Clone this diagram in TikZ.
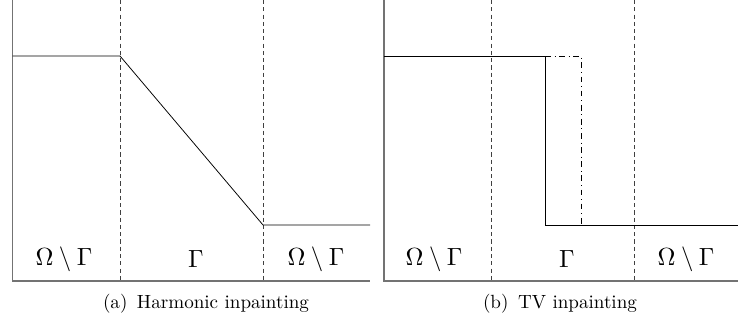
\documentclass[tikz,border=0pt]{standalone}
\usepackage{amsmath,amssymb}
\usepackage{tikz}
\usetikzlibrary{positioning,calc}

\begin{document}
\begin{tikzpicture}[
    x=0.0184cm, y=-0.0184cm,
    axis/.style={draw=black!55, line width=0.8pt},
    sep/.style={black!75, thin, dash pattern=on 2.2pt off 1.6pt},
    profile/.style={black, thin},
    altprofile/.style={black, thin, dash dot},
    region/.style={inner sep=0pt, anchor=center, scale=1.3},
    caption/.style={inner sep=0pt, anchor=center}
]
\useasboundingbox (0,0) rectangle (738,327);

% Coordinates (a) Harmonic
\coordinate (aTop) at (12.5,0);
\coordinate (aOrig) at (12.5,281);
\coordinate (aEnd) at (370,281);
\coordinate (aG1top) at (120,0);
\coordinate (aG1bot) at (120,281);
\coordinate (aG2top) at (263,0);
\coordinate (aG2bot) at (263,281);
\coordinate (aHighL) at (12.5,56);
\coordinate (aHighR) at (120,56);
\coordinate (aLowL) at (263,225);
\coordinate (aLowR) at (370,225);

% Coordinates (b) TV
\coordinate (bTop) at (384,0);
\coordinate (bOrig) at (384,281);
\coordinate (bEnd) at (738,281);
\coordinate (bG1top) at (491,0);
\coordinate (bG1bot) at (491,281);
\coordinate (bG2top) at (634,0);
\coordinate (bG2bot) at (634,281);
\coordinate (bHighL) at (384,56);
\coordinate (bJumpT) at (545,56);
\coordinate (bJumpB) at (545,225);
\coordinate (bAltT) at (581,56);
\coordinate (bAltB) at (581,225);
\coordinate (bLowR) at (738,225);

% Axes
\draw[axis] (aTop) -- (aOrig) -- (aEnd);
\draw[axis] (bTop) -- (bOrig) -- (bEnd);

% Separators
\draw[sep] (aG1top) -- (aG1bot);
\draw[sep] (aG2top) -- (aG2bot);
\draw[sep] (bG1top) -- (bG1bot);
\draw[sep] (bG2top) -- (bG2bot);

% Profiles
\draw[profile] (aHighL) -- (aHighR) -- (aLowL) -- (aLowR);
\draw[profile] (bHighL) -- (bJumpT) -- (bJumpB) -- (bLowR);
\draw[altprofile] (bJumpT) -- (bAltT) -- (bAltB);

% Region labels
\node[region] (aOut1) at (64,259) {$\Omega\setminus\Gamma$};
\node[region] (aIn) at (196,259) {$\Gamma$};
\node[region] (aOut2) at (316,259) {$\Omega\setminus\Gamma$};
\node[region] (bOut1) at (434,259) {$\Omega\setminus\Gamma$};
\node[region] (bIn) at (567,259) {$\Gamma$};
\node[region] (bOut2) at (686,259) {$\Omega\setminus\Gamma$};

% Captions
\node[caption] (capA) at (206,304) {(a)\enspace Harmonic inpainting};
\node[caption] (capB) at (560,304) {(b)\enspace TV inpainting};

\end{tikzpicture}
\end{document}
